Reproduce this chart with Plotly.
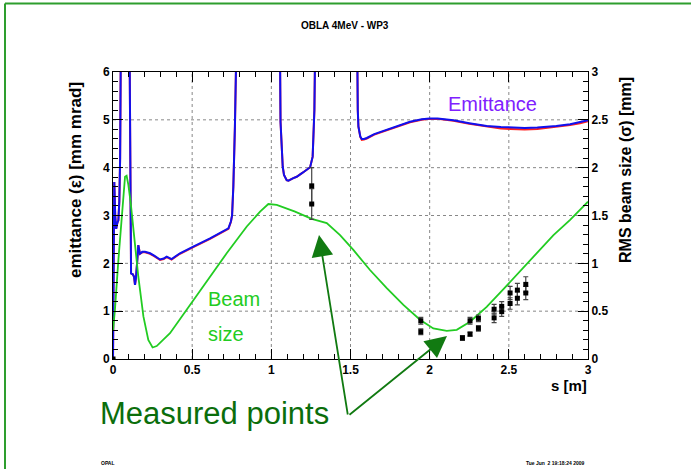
import plotly.graph_objects as go

# --- emittance along the beamline (left axis, mm mrad) ---
emit_s = [0, 0.004, 0.008, 0.014, 0.02, 0.028, 0.034, 0.04, 0.045, 0.049, 0.07, 0.1,
          0.107, 0.108, 0.112, 0.114, 0.125, 0.133, 0.139, 0.145, 0.152, 0.16, 0.17,
          0.185, 0.202, 0.234, 0.26, 0.297, 0.32, 0.339, 0.37, 0.423, 0.507, 0.613,
          0.729, 0.745, 0.752, 0.76, 0.77, 0.778, 0.9, 1.0, 1.055, 1.058, 1.072, 1.08,
          1.097, 1.108, 1.139, 1.16, 1.2, 1.245, 1.261, 1.268, 1.272, 1.276, 1.4, 1.5,
          1.543, 1.546, 1.55, 1.562, 1.571, 1.585, 1.603, 1.65, 1.729, 1.8, 1.876, 1.95,
          2.0, 2.05, 2.15, 2.25, 2.36, 2.45, 2.51, 2.6, 2.68, 2.8, 2.887, 2.95, 3.0]
emit_blue = [0, 1.5, 3.7, 3.0, 2.72, 2.85, 2.9, 3.3, 4.2, 6.3, 9, 9,
             6.3, 4.5, 2.6, 1.79, 1.77, 1.72, 1.55, 1.7, 2.0, 2.38, 2.2,
             2.24, 2.24, 2.21, 2.16, 2.08, 2.1, 2.14, 2.09, 2.21, 2.35, 2.52,
             2.73, 2.88, 3.0, 3.6, 4.86, 6.3, 9, 9, 6.3, 4.96, 4.02, 3.85,
             3.74, 3.73, 3.78, 3.81, 3.9, 4.01, 4.23, 4.7, 5.21, 6.3, 9, 9,
             6.3, 5.2, 4.86, 4.65, 4.6, 4.6, 4.62, 4.7, 4.79, 4.88, 4.96, 5.01,
             5.03, 5.03, 4.99, 4.93, 4.87, 4.85, 4.84, 4.83, 4.84, 4.87, 4.91, 4.95, 4.99]
emit_red = [0, 1.5, 3.7, 3.0, 2.72, 2.85, 2.9, 3.3, 4.2, 6.3, 9, 9,
            6.3, 4.5, 2.6, 1.79, 1.77, 1.72, 1.55, 1.7, 2.0, 2.38, 2.2,
            2.23, 2.23, 2.2, 2.15, 2.07, 2.09, 2.13, 2.08, 2.2, 2.34, 2.51,
            2.72, 2.87, 3.0, 3.6, 4.86, 6.3, 9, 9, 6.3, 4.96, 4.02, 3.85,
            3.74, 3.73, 3.78, 3.81, 3.9, 4.01, 4.23, 4.7, 5.21, 6.3, 9, 9,
            6.3, 5.2, 4.86, 4.64, 4.58, 4.59, 4.61, 4.69, 4.78, 4.87, 4.95, 5.0,
            5.02, 5.02, 4.98, 4.92, 4.86, 4.82, 4.81, 4.8, 4.81, 4.85, 4.89, 4.93, 4.97]

# --- RMS beam size (right axis, mm) ---
size_s = [0, 0.012, 0.034, 0.055, 0.076, 0.086, 0.097, 0.112, 0.133, 0.16, 0.192,
          0.223, 0.25, 0.276, 0.36, 0.507, 0.718, 0.845, 0.929, 0.981, 1.034, 1.15,
          1.255, 1.35, 1.434, 1.518, 1.623, 1.729, 1.834, 1.939, 2.023, 2.108, 2.171,
          2.255, 2.36, 2.466, 2.571, 2.676, 2.782, 2.887, 3.0]
size_sigma = [0.30, 0.51, 1.035, 1.49, 1.905, 1.915, 1.82, 1.63, 1.28, 0.86, 0.445,
              0.20, 0.12, 0.135, 0.27, 0.615, 1.105, 1.385, 1.54, 1.62, 1.61, 1.54,
              1.465, 1.42, 1.295, 1.14, 0.93, 0.74, 0.565, 0.41, 0.32, 0.295, 0.305,
              0.39, 0.545, 0.73, 0.915, 1.105, 1.295, 1.455, 1.645]

# --- measured beam sizes with errors (mm) ---
meas_s = [0.0, 1.255, 1.255, 1.944, 1.944, 2.207, 2.255, 2.255, 2.308, 2.308,
          2.407, 2.407, 2.455, 2.455, 2.508, 2.508, 2.554, 2.554, 2.607, 2.607]
meas_sigma = [0.0, 1.81, 1.62, 0.40, 0.285, 0.22, 0.26, 0.40, 0.425, 0.32,
              0.52, 0.43, 0.55, 0.495, 0.69, 0.58, 0.72, 0.635, 0.78, 0.69]
meas_err = [0, 0.19, 0.16, 0.035, 0.03, 0.025, 0.02, 0.035, 0.035, 0.03,
            0.05, 0.05, 0.05, 0.05, 0.07, 0.06, 0.07, 0.07, 0.08, 0.07]

# grid positions (major divisions)
x_grid = [0.5, 1, 1.5, 2, 2.5]
y_grid = [1, 2, 3, 4, 5]

FONT = "Liberation Sans"
W, H = 691, 469
L, R, T, B = 113, 103, 72, 110
PW, PH = W - L - R, H - T - B


def px(xp):
    return (xp - L) / PW


def py(yp):
    return (H - B - yp) / PH


fig = go.Figure()

fig.add_trace(go.Scatter(x=emit_s, y=emit_red, mode="lines",
                         line=dict(color="#ff2020", width=2), showlegend=False))
fig.add_trace(go.Scatter(x=emit_s, y=emit_blue, mode="lines",
                         line=dict(color="#1010ee", width=2), showlegend=False))
fig.add_trace(go.Scatter(x=size_s, y=size_sigma, mode="lines", yaxis="y2",
                         line=dict(color="#22cc22", width=1.8), showlegend=False))
fig.add_trace(go.Scatter(x=meas_s, y=meas_sigma, mode="markers", yaxis="y2",
                         marker=dict(symbol="square", size=5, color="black"),
                         error_y=dict(type="data", array=meas_err, color="#444444",
                                      thickness=1.2, width=2.5),
                         showlegend=False))

tick_font = dict(family=FONT, size=12, color="black")
bold = dict(tickprefix="<b>", ticksuffix="</b>")


def minor(step):
    return dict(dtick=step, ticks="inside", ticklen=5, tickcolor="black", tickwidth=1)


fig.update_layout(
    width=W, height=H,
    margin=dict(l=L, r=R, t=T, b=B),
    paper_bgcolor="white", plot_bgcolor="white",
    xaxis=dict(range=[0, 3], dtick=0.5,
               ticks="inside", ticklen=10, tickwidth=1, tickcolor="black",
               minor=minor(0.1), mirror="ticks",
               showline=True, linecolor="black", showgrid=False,
               zeroline=False, tickfont=tick_font, **bold),
    yaxis=dict(range=[0, 6], dtick=1,
               ticks="inside", ticklen=10, tickwidth=1, tickcolor="black",
               minor=minor(0.2),
               showline=True, linecolor="black", showgrid=False,
               zeroline=False, tickfont=tick_font, **bold),
    yaxis2=dict(range=[0, 3], dtick=0.5, overlaying="y", side="right",
                ticks="inside", ticklen=10, tickwidth=1, tickcolor="black",
                minor=minor(0.1),
                showline=True, linecolor="black", showgrid=False,
                zeroline=False, tickfont=tick_font, **bold),
)

# dotted grid at the major divisions
grid_line = dict(color="#888888", width=1, dash="dot")
for g in x_grid:
    fig.add_shape(type="line", xref="x", yref="paper", x0=g, x1=g, y0=0, y1=1,
                  line=grid_line, layer="below")
for g in y_grid:
    fig.add_shape(type="line", xref="paper", yref="y", x0=0, x1=1, y0=g, y1=g,
                  line=grid_line, layer="below")


def label(text, x, y, size, color="black", weight=None, angle=0, xanchor="center"):
    font = dict(family=FONT, size=size, color=color)
    if weight:
        font["weight"] = weight
    return dict(text=text, xref="paper", yref="paper", x=px(x), y=py(y),
                xanchor=xanchor, yanchor="middle", textangle=angle,
                showarrow=False, font=font)


ann = [
    label("OBLA 4MeV - WP3", 345, 25, 10, weight="bold"),
    label("emittance (\u03b5) [mm mrad]", 75, 180, 17, weight="bold", angle=-90),
    label("RMS beam size (\u03c3) [mm]", 625, 170, 16, weight="bold", angle=-90),
    label("s [m]", 589, 386, 15, weight="bold", xanchor="right"),
    label("Emittance", 492, 104, 20, color="#8020ff"),
    label("Beam", 206, 299, 20, color="#22cc22", xanchor="left"),
    label("size", 206, 334, 20, color="#22cc22", xanchor="left"),
    label("Measured points", 98, 413, 31, color="#0b6e0b", xanchor="left"),
    label("OPAL", 108, 463, 5, weight="bold"),
    label("Tue Jun  2 19:18:24 2009", 555, 463, 5, weight="bold"),
]
# arrows pointing at the measurements
tail = (348, 416)
for tip in [(319, 235), (447, 336)]:
    ann.append(dict(text="", xref="paper", yref="paper",
                    x=px(tip[0]), y=py(tip[1]),
                    ax=tail[0] - tip[0], ay=tail[1] - tip[1],
                    showarrow=True, arrowhead=2, arrowsize=2.4, arrowwidth=1.8,
                    arrowcolor="#117a11", standoff=0, startstandoff=0))
fig.update_layout(annotations=ann)

# page frame (top and left edges)
frame = dict(color="#2e9e2e", width=2)
fig.add_shape(type="line", xref="paper", yref="paper",
              x0=px(5), x1=px(691), y0=py(3.5), y1=py(3.5), line=frame)
fig.add_shape(type="line", xref="paper", yref="paper",
              x0=px(5), x1=px(5), y0=py(3.5), y1=py(469), line=frame)

fig.write_html("out.html")
